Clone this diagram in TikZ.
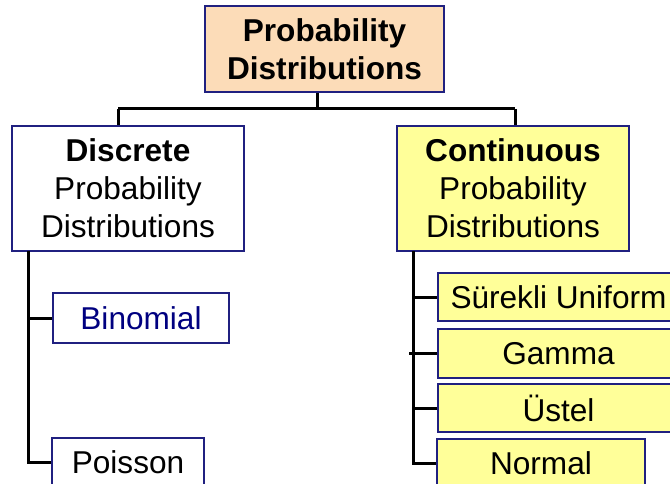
\documentclass[tikz,border=0pt]{standalone}
\usepackage{fontspec}
\setmainfont{Liberation Sans}
\definecolor{navyb}{HTML}{202080}
\definecolor{peach}{HTML}{FCDCB8}
\definecolor{lyel}{HTML}{FFFF99}
\definecolor{navyt}{HTML}{000080}
\begin{document}
\begin{tikzpicture}[x=1pt,y=-1pt,
  box/.style={draw=navyb,line width=1.3pt,inner sep=0pt,align=center,
    font=\fontsize{31.6pt}{38pt}\selectfont},
  conn/.style={line width=3pt,black}]
\useasboundingbox (0,0) rectangle (670,484);
\clip (0,0) rectangle (670,484);
% nodes
\node[box,fill=peach,minimum width=239pt,minimum height=86pt] (top) at (324.5,49)
  {\textbf{Probability}\\\textbf{Distributions}};
\node[box,fill=white,minimum width=232pt,minimum height=125pt] (disc) at (128,188.5)
  {\textbf{Discrete}\\Probability\\Distributions};
\node[box,fill=lyel,minimum width=232pt,minimum height=125pt] (cont) at (513,188.5)
  {\textbf{Continuous}\\Probability\\Distributions};
\node[box,fill=white,text=navyt,minimum width=176pt,minimum height=50pt] (bin) at (141,318) {Binomial};
\node[box,fill=white,minimum width=152pt,minimum height=48pt] (poi) at (128,462) {Poisson};
\node[box,fill=lyel,minimum width=241pt,minimum height=48pt] (uni) at (558.5,297) {Sürekli Uniform};
\node[box,fill=lyel,minimum width=241pt,minimum height=49pt] (gam) at (558.5,353.5) {Gamma};
\node[box,fill=lyel,minimum width=241pt,minimum height=48pt] (ust) at (558.5,408) {Üstel};
\node[box,fill=lyel,minimum width=208pt,minimum height=48pt] (nor) at (541,463) {Normal};
% junctions
\coordinate (j) at (317,109);
\coordinate (jl) at (118,109);
\coordinate (jr) at (515,109);
\coordinate (dt) at (28,251);
\coordinate (ct) at (413,251);
% connectors
\draw[conn] (top.south -| j) -- (j);
\draw[conn] (jl) -- (jr);
\draw[conn] (jl) -- (disc.north -| jl);
\draw[conn] (jr) -- (cont.north -| jr);
\draw[conn] (dt) |- (bin.west);
\draw[conn] (dt) |- (poi.west);
\draw[conn] (ct) |- (uni.west);
\draw[conn] (ct) |- (nor.west);
\draw[conn] (gam.west) -- ++(-28,0);
\draw[conn] (ust.west) -- (ust.west -| ct);
\end{tikzpicture}
\end{document}
